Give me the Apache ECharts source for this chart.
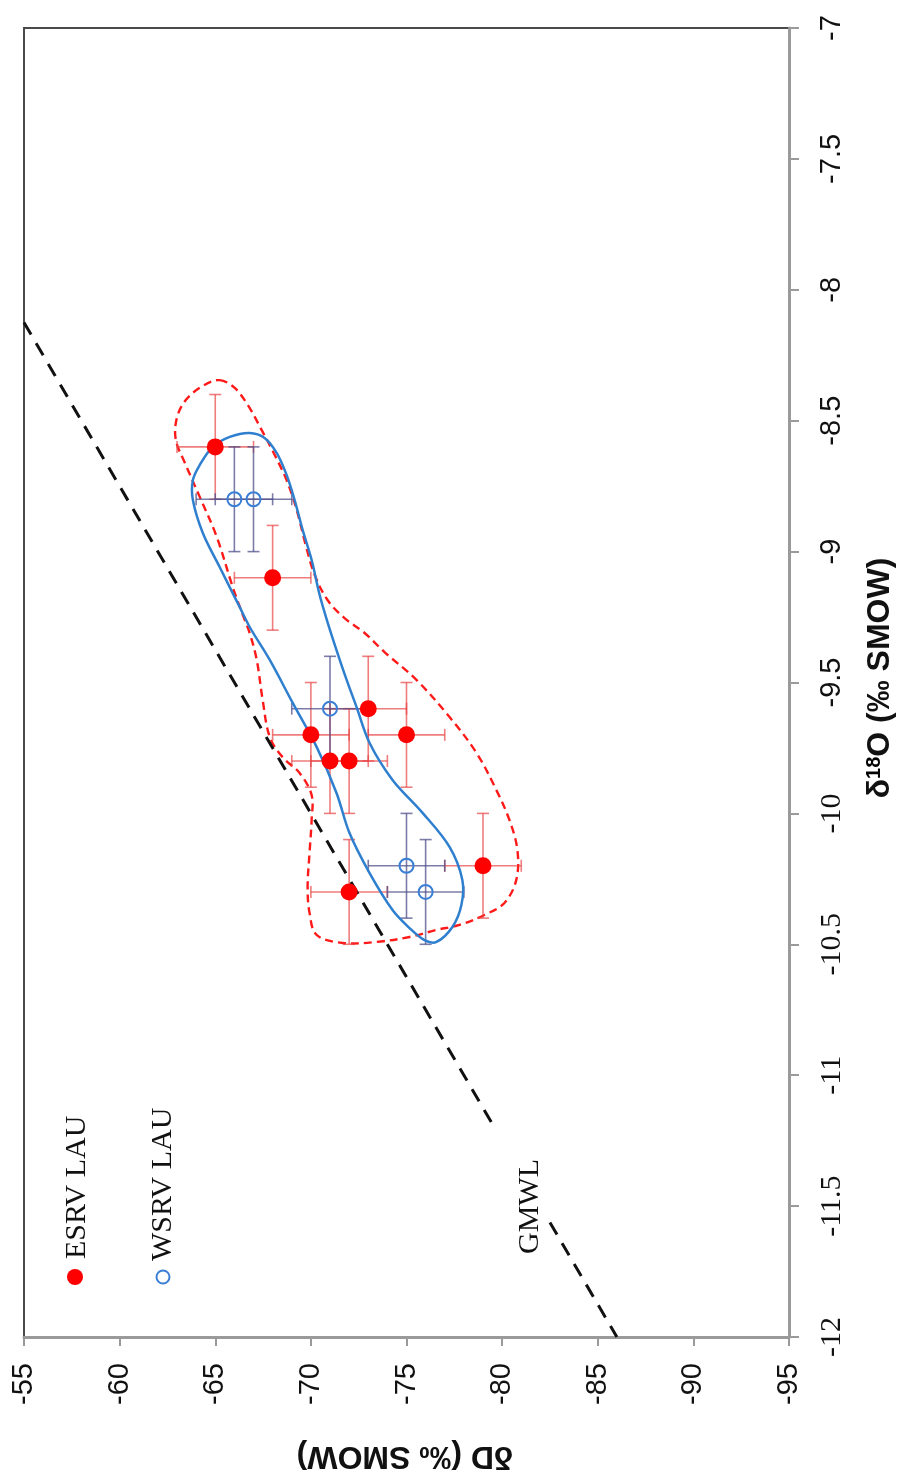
<!DOCTYPE html>
<html>
<head>
<meta charset="utf-8">
<script src="https://cdn.jsdelivr.net/npm/echarts@6/dist/echarts.min.js"></script>
<style>
html,body{margin:0;padding:0;background:#fff;}
#c{width:901px;height:1476px;}
</style>
</head>
<body>
<div id="c"></div>
<script>
// ---- data (δD, δ18O in ‰ SMOW) ----
const esrvD = [-65, -68, -70, -73, -75, -71, -72, -72, -79];
const esrvO = [-8.6, -9.1, -9.7, -9.6, -9.7, -9.8, -9.8, -10.3, -10.2];
const esrvErrD = [2, 2, 2, 2, 2, 2, 2, 2, 2];
const esrvErrO = [0.2, 0.2, 0.2, 0.2, 0.2, 0.2, 0.2, 0.2, 0.2];

const wsrvD = [-66, -67, -71, -75, -76];
const wsrvO = [-8.8, -8.8, -9.6, -10.2, -10.3];
const wsrvErrD = [2, 2, 2, 2, 2];
const wsrvErrO = [0.2, 0.2, 0.2, 0.2, 0.2];

// GMWL dashed line (two pieces, gap behind its label)
const gmwlUpper = [[-55, -8.125], [-79.6, -11.2]];
const gmwlLower = [[-82.5, -11.5625], [-86, -12]];

// hand-drawn envelopes
const esrvEnvelope = [
  [-65.23,-8.345],[-66.02,-8.375],[-66.70,-8.44],[-67.43,-8.536],[-68.11,-8.631],[-68.73,-8.727],
  [-69.26,-8.841],[-69.73,-8.975],[-70.20,-9.089],[-70.87,-9.185],[-71.76,-9.254],[-72.81,-9.311],
  [-73.85,-9.384],[-75.52,-9.49],[-77.25,-9.632],[-78.66,-9.769],[-79.70,-9.911],[-80.38,-10.025],
  [-80.80,-10.14],[-80.74,-10.254],[-80.12,-10.342],[-79.07,-10.388],[-77.77,-10.426],[-76.57,-10.445],
  [-75.16,-10.472],[-73.43,-10.491],[-71.66,-10.495],[-70.30,-10.464],[-69.93,-10.38],[-69.83,-10.281],
  [-69.93,-10.151],[-70.04,-10.025],[-70.04,-9.93],[-69.41,-9.846],[-68.52,-9.785],[-67.85,-9.708],
  [-67.48,-9.567],[-67.17,-9.414],[-66.80,-9.311],[-66.44,-9.242],[-65.91,-9.135],[-65.08,-8.944],
  [-64.19,-8.791],[-63.46,-8.669],[-62.94,-8.574],[-62.99,-8.49],[-63.46,-8.421],[-64.35,-8.367]
];
const wsrvEnvelope = [
  [-66.80,-8.547],[-67.58,-8.566],[-68.21,-8.623],[-68.73,-8.707],[-69.15,-8.803],[-69.57,-8.917],
  [-70.04,-9.032],[-70.46,-9.166],[-70.87,-9.269],[-71.34,-9.376],[-71.87,-9.49],[-72.39,-9.594],
  [-73.07,-9.731],[-74.27,-9.872],[-75.84,-9.998],[-77.25,-10.128],[-77.92,-10.254],[-77.87,-10.35],
  [-77.40,-10.434],[-76.57,-10.491],[-75.94,-10.484],[-75.16,-10.438],[-74.27,-10.369],[-73.07,-10.228],
  [-72.02,-10.075],[-71.34,-9.922],[-70.30,-9.746],[-69.05,-9.578],[-67.85,-9.414],[-66.80,-9.288],
  [-66.28,-9.212],[-65.23,-9.059],[-64.35,-8.929],[-63.83,-8.803],[-63.83,-8.727],[-64.19,-8.669],
  [-64.87,-8.600],[-65.76,-8.562]
];

const xTicks = { min: -95, max: -55, interval: 5 };
const yTicks = { min: -12, max: -7, interval: 0.5 };

// ---- chart ----
const SANS = "'Liberation Sans', Arial, sans-serif";
const SERIF = "'Liberation Serif', 'Times New Roman', serif";
const chart = echarts.init(document.getElementById('c'), null, { renderer: 'canvas' });

function zip(a, b, c, d) { return a.map((v, i) => [v, b[i], c ? c[i] : 0, d ? d[i] : 0]); }

function errorBarRender(color) {
  return function (params, api) {
    const d = api.value(0), o = api.value(1), ed = api.value(2), eo = api.value(3);
    const l = api.coord([d + ed, o]);
    const r = api.coord([d - ed, o]);
    const t = api.coord([d, o + eo]);
    const b = api.coord([d, o - eo]);
    const cap = 6;
    const st = { stroke: color, lineWidth: 1.6 };
    return {
      type: 'group',
      children: [
        { type: 'line', shape: { x1: l[0], y1: l[1], x2: r[0], y2: r[1] }, style: st },
        { type: 'line', shape: { x1: t[0], y1: t[1], x2: b[0], y2: b[1] }, style: st },
        { type: 'line', shape: { x1: l[0], y1: l[1] - cap, x2: l[0], y2: l[1] + cap }, style: st },
        { type: 'line', shape: { x1: r[0], y1: r[1] - cap, x2: r[0], y2: r[1] + cap }, style: st },
        { type: 'line', shape: { x1: t[0] - cap, y1: t[1], x2: t[0] + cap, y2: t[1] }, style: st },
        { type: 'line', shape: { x1: b[0] - cap, y1: b[1], x2: b[0] + cap, y2: b[1] }, style: st }
      ]
    };
  };
}

function envelopeRender(points, style) {
  return function (params, api) {
    return {
      type: 'polygon',
      shape: { points: points.map(p => api.coord(p)), smooth: 0.35 },
      style: Object.assign({ fill: 'none' }, style)
    };
  };
}

const option = {
  animation: false,
  backgroundColor: '#ffffff',
  grid: { left: 24, right: 112, top: 28, bottom: 139, show: true, borderColor: '#4a4a4a', borderWidth: 2 },
  xAxis: {
    type: 'value', position: 'bottom', inverse: true,
    min: xTicks.min, max: xTicks.max, interval: xTicks.interval,
    axisLine: { show: true, onZero: false, lineStyle: { color: '#9a9a9a', width: 3 } },
    axisTick: { show: true, length: 9, lineStyle: { color: '#9a9a9a', width: 2 } },
    splitLine: { show: false },
    axisLabel: { rotate: 90, margin: 26, color: '#111', fontSize: 29, fontFamily: SANS }
  },
  yAxis: {
    type: 'value', position: 'right',
    min: yTicks.min, max: yTicks.max, interval: yTicks.interval,
    axisLine: { show: true, onZero: false, lineStyle: { color: '#9a9a9a', width: 3 } },
    axisTick: { show: true, length: 10, lineStyle: { color: '#9a9a9a', width: 2 } },
    splitLine: { show: false },
    axisLabel: {
      rotate: 90, margin: 28, color: '#111',
      formatter: v => (v <= -10 ? '{s|' + v + '}' : '{n|' + v + '}'),
      rich: {
        s: { fontSize: 30, fontFamily: SERIF, color: '#111' },
        n: { fontSize: 29, fontFamily: SANS, color: '#111' }
      }
    }
  },
  series: [
    { type: 'custom', name: 'ESRV envelope', data: [[-70, -9.5]], renderItem: envelopeRender(esrvEnvelope, { stroke: '#ff1a1a', lineWidth: 2.4, lineDash: [8, 5] }), z: 2 },
    { type: 'custom', name: 'ESRV err', data: zip(esrvD, esrvO, esrvErrD, esrvErrO), renderItem: errorBarRender('rgba(232,70,70,0.7)'), z: 3 },
    { type: 'custom', name: 'WSRV err', data: zip(wsrvD, wsrvO, wsrvErrD, wsrvErrO), renderItem: errorBarRender('rgba(80,80,140,0.75)'), z: 3 },
    { type: 'custom', name: 'WSRV envelope', data: [[-70, -9.5]], renderItem: envelopeRender(wsrvEnvelope, { stroke: '#2f7fcf', lineWidth: 2.5 }), z: 4 },
    { type: 'line', name: 'GMWL', data: gmwlUpper, symbol: 'none', lineStyle: { color: '#111', width: 3, type: [14, 10] }, z: 4 },
    { type: 'line', name: 'GMWL2', data: gmwlLower, symbol: 'none', lineStyle: { color: '#111', width: 3, type: [14, 10] }, z: 4 },
    { type: 'scatter', name: 'ESRV LAU', data: zip(esrvD, esrvO).map(p => [p[0], p[1]]), symbol: 'circle', symbolSize: 17, itemStyle: { color: '#ff0000', opacity: 1 }, z: 6 },
    { type: 'scatter', name: 'WSRV LAU', data: zip(wsrvD, wsrvO).map(p => [p[0], p[1]]), symbol: 'circle', symbolSize: 14, itemStyle: { color: 'rgba(0,0,0,0)', borderColor: '#3a7fd5', borderWidth: 2, opacity: 1 }, z: 6 }
  ],
  graphic: [
    // legend
    { type: 'circle', shape: { cx: 75, cy: 1277, r: 8 }, style: { fill: '#ff0000' } },
    { type: 'text', x: 77, y: 1259, rotation: Math.PI / 2, style: { text: 'ESRV LAU', x: 0, y: 0, textAlign: 'left', textVerticalAlign: 'middle', font: '30px ' + SERIF, fill: '#111' } },
    { type: 'circle', shape: { cx: 163, cy: 1277, r: 6.5 }, style: { fill: 'none', stroke: '#3a7fd5', lineWidth: 2 } },
    { type: 'text', x: 163, y: 1261, rotation: Math.PI / 2, style: { text: 'WSRV LAU', x: 0, y: 0, textAlign: 'left', textVerticalAlign: 'middle', font: '30px ' + SERIF, fill: '#111' } },
    // GMWL label
    { type: 'text', x: 530, y: 1254, rotation: Math.PI / 2, style: { text: 'GMWL', x: 0, y: 0, textAlign: 'left', textVerticalAlign: 'middle', font: '30px ' + SERIF, fill: '#111' } },
    // axis titles
    { type: 'text', x: 405, y: 1456, rotation: Math.PI, style: { text: 'δD (‰ SMOW)', x: 0, y: 0, textAlign: 'center', textVerticalAlign: 'middle', font: 'bold 32px ' + SANS, fill: '#111' } },
    { type: 'text', x: 880, y: 678, rotation: Math.PI / 2, style: {
        text: '{a|δ}{b|18}{a|O (‰ SMOW)}', x: 0, y: 0, align: 'center', verticalAlign: 'middle',
        rich: { a: { font: 'bold 32px ' + SANS, fill: '#111', color: '#111' }, b: { font: 'bold 20px ' + SANS, color: '#111', verticalAlign: 'top', padding: [0, 0, 10, 0] } }
      } }
  ]
};
chart.setOption(option);
</script>
</body>
</html>
